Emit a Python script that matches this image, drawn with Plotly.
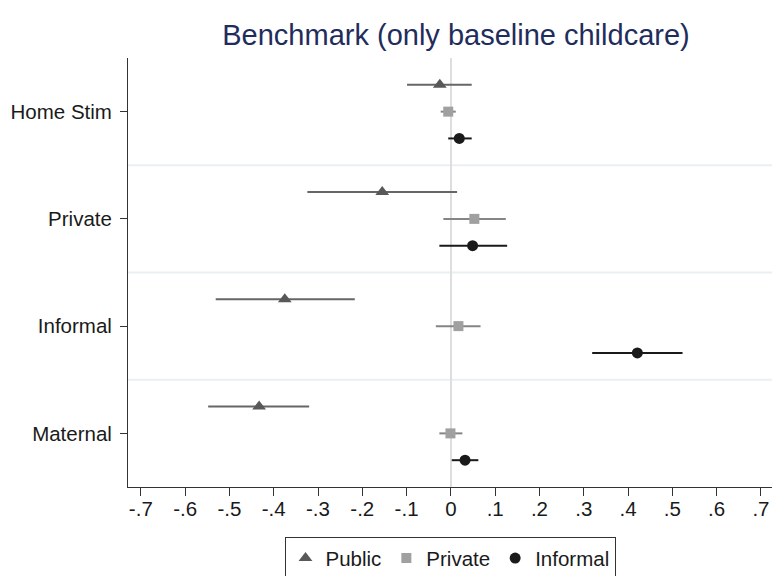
import plotly.graph_objects as go

categories = ["Home Stim", "Private", "Informal", "Maternal"]
series = ["Public", "Private", "Informal"]

# point estimates per category (order as categories)
est_public = [-0.025, -0.155, -0.375, -0.433]
lo_public = [-0.099, -0.324, -0.531, -0.548]
hi_public = [0.047, 0.014, -0.217, -0.320]

est_private = [-0.006, 0.053, 0.017, -0.001]
lo_private = [-0.023, -0.017, -0.034, -0.026]
hi_private = [0.011, 0.124, 0.067, 0.026]

est_informal = [0.019, 0.049, 0.421, 0.032]
lo_informal = [-0.006, -0.026, 0.319, 0.002]
hi_informal = [0.047, 0.127, 0.523, 0.062]

tick_vals = [-0.7, -0.6, -0.5, -0.4, -0.3, -0.2, -0.1, 0, 0.1, 0.2, 0.3, 0.4, 0.5, 0.6, 0.7]
tick_text = ["-.7", "-.6", "-.5", "-.4", "-.3", "-.2", "-.1", "0", ".1", ".2", ".3", ".4", ".5", ".6", ".7"]

n = len(categories)
base_y = [n - i for i in range(n)]  # Home Stim top

specs = [
    ("Public", est_public, lo_public, hi_public, 0.25, "triangle-up", "#585858", "#666666", 12),
    ("Private", est_private, lo_private, hi_private, 0.0, "square", "#a0a0a0", "#858585", 10),
    ("Informal", est_informal, lo_informal, hi_informal, -0.25, "circle", "#1a1a1a", "#1a1a1a", 11),
]

FONT = "Liberation Sans, Arial, sans-serif"
fig = go.Figure()
for name, est, lo, hi, off, sym, col, lcol, size in specs:
    fig.add_trace(go.Scatter(
        x=est,
        y=[b + off for b in base_y],
        mode="markers",
        name=name,
        marker=dict(symbol=sym, color=col, size=size),
        error_x=dict(type="data", symmetric=False,
                     array=[h - e for h, e in zip(hi, est)],
                     arrayminus=[e - l for e, l in zip(est, lo)],
                     color=lcol, thickness=2, width=0),
    ))

for sep in [1.5, 2.5, 3.5]:
    fig.add_shape(type="line", xref="paper", x0=0, x1=1, yref="y", y0=sep, y1=sep,
                  line=dict(color="#eaeff2", width=2), layer="below")

fig.update_layout(
    width=772, height=576,
    margin=dict(l=128, r=0, t=58, b=89, autoexpand=False),
    paper_bgcolor="white", plot_bgcolor="white",
    font=dict(family=FONT, size=20.5, color="#1a1a1a"),
    title=dict(text="Benchmark (only baseline childcare)", x=456 / 772, xref="container", xanchor="center",
               y=1 - 35 / 576, yanchor="middle",
               font=dict(family=FONT, size=29, color="#1f2d5c")),
    showlegend=True,
    legend=dict(orientation="h", x=0.5, xanchor="center", y=-0.117, yanchor="top",
                bordercolor="#333333", borderwidth=1, bgcolor="white",
                font=dict(family=FONT, size=20.5, color="#1a1a1a"),
                itemclick=False),
    xaxis=dict(range=[-0.729, 0.725], tickmode="array", tickvals=tick_vals, ticktext=tick_text,
               showgrid=False, zeroline=True, zerolinecolor="#dedede", zerolinewidth=2,
               showline=True, linecolor="#333333", linewidth=1,
               ticks="outside", ticklen=8, tickcolor="#333333", mirror=False,
               ticklabelstandoff=-5),
    yaxis=dict(range=[0.5, 4.5], tickmode="array", tickvals=base_y, ticktext=categories,
               showgrid=False, zeroline=False,
               showline=True, linecolor="#333333", linewidth=1,
               ticks="outside", ticklen=7, tickcolor="#333333", ticklabelstandoff=4),
)

fig.write_html("out.html")
